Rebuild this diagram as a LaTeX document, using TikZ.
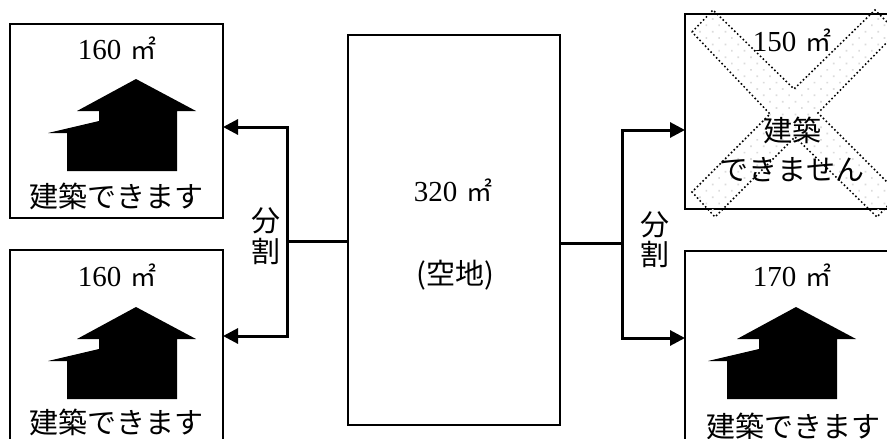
\documentclass[tikz,border=0pt]{standalone}
\usepackage{fontspec}
\setmainfont{Liberation Serif}
\newfontfamily\cjk{Noto Sans CJK JP}
\usetikzlibrary{arrows.meta, patterns.meta}
\newcommand{\sqm}{\hspace{.3em}{\cjk\fontsize{26}{26}\selectfont ㎡}}

\begin{document}
\begin{tikzpicture}[x=1pt,y=-1pt,>={Triangle[length=15pt,width=15pt]},
  lot/.style={draw,line width=2pt,inner sep=0pt},
  link/.style={line width=3pt},
  label/.style={inner sep=0pt,font=\cjk\fontsize{29}{29}\selectfont},
  area/.style={inner sep=0pt,font=\fontsize{29}{29}\selectfont},
  notok/.style={line width=1.5pt,dash pattern=on 1.6pt off 2.4pt,
    pattern={Dots[radius=1.2pt,distance=9pt,angle=45]},pattern color=black!14},
  home/.pic={
    \fill (136,79) -- (196,111) -- (177,111) -- (177,171) -- (67,171) -- (67,133)
      -- (48,133) -- (99,121) -- (99,111) -- (77,111) -- cycle;
  }]
  \useasboundingbox (0,0) rectangle (887,439);
  % plots
  \node[lot,minimum width=212pt,minimum height=390pt] (land) at (454,230) {};
  \node[lot,minimum width=213pt,minimum height=194pt] (lot1) at (116.5,121) {};
  \node[lot,minimum width=213pt,minimum height=200pt] (lot2) at (116.5,350) {};
  \node[lot,minimum width=215pt,minimum height=195pt] (lot3) at (792.5,111.5) {};
  \node[lot,minimum width=215pt,minimum height=200pt] (lot4) at (792.5,351) {};
  % houses
  \pic at (0,0) {home};
  \pic at (0,228) {home};
  \pic at (660,228) {home};
  % cross
  \draw[notok] (692,32) -- (713,10) -- (794,89) -- (875,10) -- (897,32) -- (818,113)
    -- (899,194) -- (877,217) -- (795,137) -- (715,217) -- (692,192) -- (770,114) -- cycle;
  % labels
  \node[area] (a1) at (117,48) {160\sqm};
  \node[label] (t1) at (117,196) {建築できます};
  \node[area] (a2) at (117,275) {160\sqm};
  \node[label] (t2) at (117,422) {建築できます};
  \node[area] (a3) at (792,40) {150\sqm};
  \node[label] (t3) at (792,130) {建築};
  \node[label] (t3b) at (792,170) {できません};
  \node[area] (a4) at (792,275) {170\sqm};
  \node[label] (t4) at (793,426) {建築できます};
  \node[area] (a0) at (453,190) {320\sqm};
  \node[label] (t0) at (455,275) {(空地)};
  \node[label] (d1) at (266,221) {分};
  \node[label] (d2) at (266,251) {割};
  \node[label] (d3) at (655,225) {分};
  \node[label] (d4) at (655,254) {割};
  % connectors
  \coordinate (ljoin) at (287,241);
  \coordinate (rjoin) at (622,243);
  \coordinate (ltop) at (223,127);
  \coordinate (lbot) at (223,336);
  \coordinate (rtop) at (685,130);
  \coordinate (rbot) at (685,338);
  \draw[link] (land.west |- ljoin) -- (ljoin);
  \draw[link] (land.east |- rjoin) -- (rjoin);
  \draw[link,->] (ljoin) |- (ltop);
  \draw[link,->] (ljoin) |- (lbot);
  \draw[link,->] (rjoin) |- (rtop);
  \draw[link,->] (rjoin) |- (rbot);
\end{tikzpicture}
\end{document}
